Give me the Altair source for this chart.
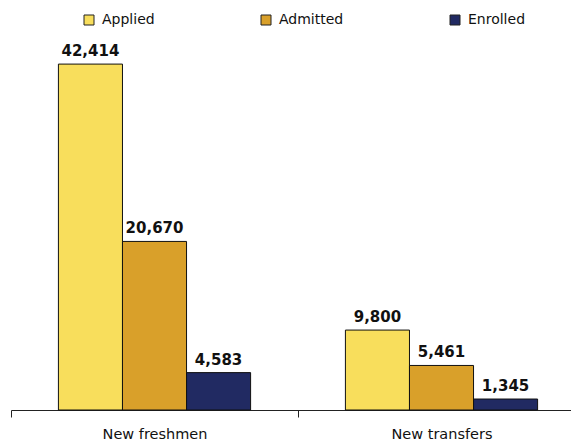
import altair as alt
import pandas as pd

categories = ["New freshmen", "New transfers"]
series = ["Applied", "Admitted", "Enrolled"]
applied = [42414, 9800]
admitted = [20670, 5461]
enrolled = [4583, 1345]
colors = ["#F8DE5C", "#D9A02A", "#212A62"]

rows = []
for name, vals in zip(series, [applied, admitted, enrolled]):
    for c, v in zip(categories, vals):
        rows.append({"category": c, "series": name, "value": v})
df = pd.DataFrame(rows)

x = alt.X("category:N", sort=categories, title=None,
          scale=alt.Scale(paddingInner=0, paddingOuter=0, range=[0, 574]),
          axis=alt.Axis(labelAngle=0, labelFont="DejaVu Sans", labelFontSize=14.5,
                        labelColor="#111", tickBand="extent", tickSize=7,
                        tickColor="#222", domainColor="#222", labelPadding=10,
                        grid=False))
xo = alt.XOffset("series:N", sort=series,
                 scale=alt.Scale(paddingInner=0, paddingOuter=0.74))
y = alt.Y("value:Q", scale=alt.Scale(domain=[0, 45000], nice=False), axis=None)

bars = alt.Chart(df).mark_bar(stroke="#111", strokeWidth=1).encode(
    x=x, xOffset=xo, y=y,
    color=alt.Color("series:N", sort=series,
                    scale=alt.Scale(domain=series, range=colors),
                    legend=alt.Legend(title=None, orient="none", direction="horizontal",
                                      columns=3, legendX=71, legendY=-30,
                                      symbolType="square", symbolSize=100,
                                      symbolStrokeColor="#222", symbolStrokeWidth=1,
                                      labelFont="DejaVu Sans", labelFontSize=14,
                                      labelColor="#111", labelOffset=6,
                                      columnPadding=104, padding=0)),
)

labels = alt.Chart(df).mark_text(baseline="bottom", dy=-5, font="DejaVu Sans",
                                 fontSize=15, fontWeight="bold", color="#111").encode(
    x=x, xOffset=xo, y=y, text=alt.Text("value:Q", format=",")
)

chart = (bars + labels).properties(
    width=560, height=367,
    autosize=alt.AutoSizeParams(type="none"),
    padding={"left": 3, "right": 0, "top": 35, "bottom": 32},
).configure_view(stroke=None).configure_axis(domainWidth=1)

chart.save("out.html", embed_options={"renderer": "svg", "actions": False})
